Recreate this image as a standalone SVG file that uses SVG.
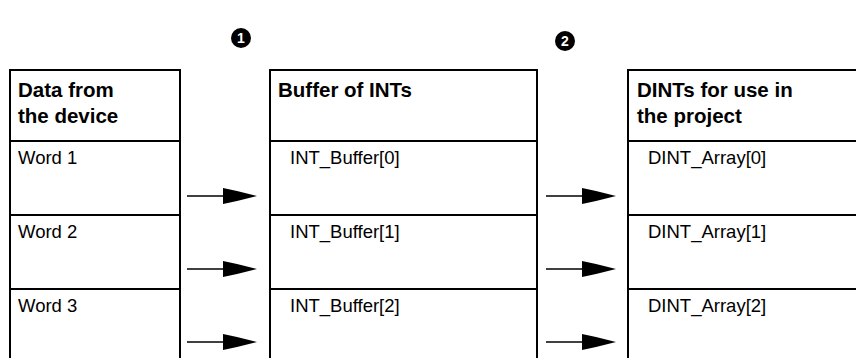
<svg xmlns="http://www.w3.org/2000/svg" width="856" height="358" viewBox="0 0 856 358">
<style>
.ln{stroke:#000;stroke-width:2;fill:none}
.hd{font-family:"Liberation Sans",Arial,sans-serif;font-size:20.5px;font-weight:bold;fill:#000}
.tx{font-family:"Liberation Sans",Arial,sans-serif;font-size:18.5px;fill:#000}
.num{font-family:"Liberation Sans",Arial,sans-serif;font-size:14px;font-weight:bold;fill:#fff;text-anchor:middle}
</style>
<defs>
<g id="arrow">
<line x1="0" y1="0" x2="38" y2="0" stroke="#000" stroke-width="1.5"/>
<polygon points="36,-8 50,-5 70,0 50,5 36,8"/>
</g>
</defs>
<g id="callout1"><circle cx="241" cy="38" r="10" fill="#000"/><text class="num" x="241" y="43">1</text></g>
<g id="callout2"><circle cx="565" cy="41" r="10" fill="#000"/><text class="num" x="565" y="46">2</text></g>
<g id="table1">
<path class="ln" d="M10,358 V70 H180 V358 M10,141 H180 M10,215 H180 M10,289 H180"/>
<text class="hd" x="18" y="97">Data from</text>
<text class="hd" x="18" y="123">the device</text>
<text class="tx" x="18" y="164">Word 1</text>
<text class="tx" x="18" y="238">Word 2</text>
<text class="tx" x="18" y="312">Word 3</text>
</g>
<g id="table2">
<path class="ln" d="M270,358 V70 H537 V358 M270,141 H537 M270,215 H537 M270,289 H537"/>
<text class="hd" x="278" y="97">Buffer of INTs</text>
<text class="tx" x="290" y="164">INT_Buffer[0]</text>
<text class="tx" x="290" y="238">INT_Buffer[1]</text>
<text class="tx" x="290" y="312">INT_Buffer[2]</text>
</g>
<g id="table3">
<path class="ln" d="M628,358 V70 H857 M628,141 H857 M628,215 H857 M628,289 H857"/>
<text class="hd" x="637" y="97">DINTs for use in</text>
<text class="hd" x="637" y="123">the project</text>
<text class="tx" x="648" y="164">DINT_Array[0]</text>
<text class="tx" x="648" y="238">DINT_Array[1]</text>
<text class="tx" x="648" y="312">DINT_Array[2]</text>
</g>
<g id="connectors">
<use href="#arrow" x="187" y="196"/>
<use href="#arrow" x="187" y="269"/>
<use href="#arrow" x="187" y="342"/>
<use href="#arrow" x="546" y="196"/>
<use href="#arrow" x="546" y="269"/>
<use href="#arrow" x="546" y="342"/>
</g>
</svg>
